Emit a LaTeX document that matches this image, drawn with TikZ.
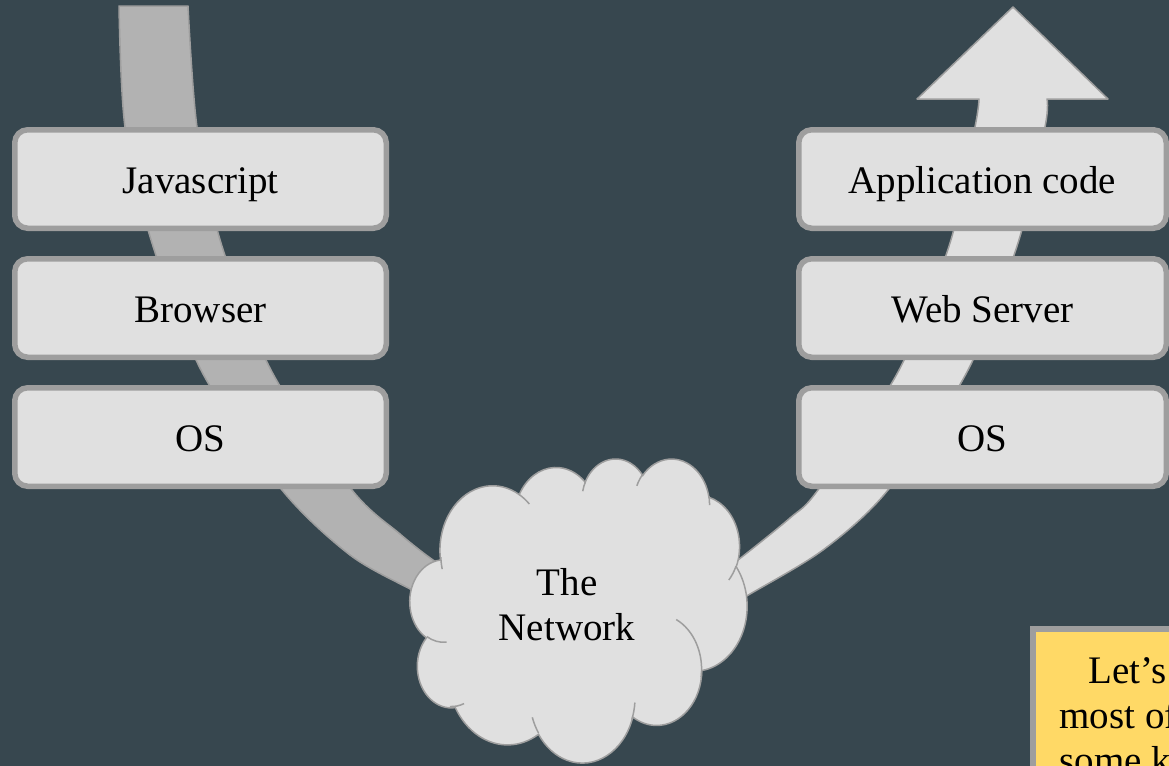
\documentclass[tikz,border=0pt]{standalone}
\usepackage{fontspec}
\setmainfont{Liberation Serif}
\definecolor{slate}{HTML}{37474F}
\definecolor{panel}{HTML}{E0E0E0}
\definecolor{rim}{HTML}{9E9E9E}
\definecolor{tailgray}{HTML}{B2B2B2}
\definecolor{sticky}{HTML}{FFD966}

% Elliptic arc given by radii, a geometric start angle and a sweep (OOXML style arcTo)
\def\ooarc#1#2#3#4{%
  \pgfextra{%
    \pgfmathsetmacro\arcA{atan2((#1)*sin(#3),(#2)*cos(#3))}%
    \pgfmathsetmacro\arcB{atan2((#1)*sin((#3)+(#4)),(#2)*cos((#3)+(#4)))}%
    \pgfmathsetmacro\arcD{\arcB-\arcA}%
    \pgfmathsetmacro\arcD{\arcD+((\arcD<0)*360)}%
    \global\let\arcStart\arcA
    \global\let\arcDelta\arcD
  }%
  arc[start angle=\arcStart, delta angle=\arcDelta, x radius=#1, y radius=#2]%
}

\tikzset{
  layer/.style={draw=rim, fill=panel, line width=2.75pt, rounded corners=6.5pt,
    minimum height=49.25pt, inner sep=0pt, text height=17pt, text depth=3pt,
    font=\fontsize{19.5}{22.5}\selectfont},
  leftlayer/.style={layer, minimum width=185.75pt},
  rightlayer/.style={layer, minimum width=183.75pt},
  band/.style={draw=rim, line width=0.75pt, line join=round},
  label/.style={font=\fontsize{19.5}{22.5}\selectfont, inner sep=0pt},
}

\begin{document}
\begin{tikzpicture}[x=0.5pt,y=-0.5pt]
\useasboundingbox (0,0) rectangle (1169,766);
\clip (0,0) rectangle (1169,766);
\fill[slate] (0,0) rectangle (1169,766);

% outgoing request: grey band falling into the network
\filldraw[band, fill=tailgray]
  plot[smooth] coordinates {(119,6) (125,127) (152,243) (202,372) (282,490) (350,555) (412,590) (445,607)}
  -- plot[smooth] coordinates {(465,580) (433,560) (400,534) (352,490) (272,372) (221,243) (197,127) (188,6)}
  -- cycle;

% incoming request: light band rising to the application
\filldraw[band, fill=panel]
  plot[smooth] coordinates {(979,99) (975,127) (950,243) (898,372) (818,490) (790,518) (738,560) (712,578)}
  -- plot[smooth] coordinates {(718,614) (745,597) (823,550) (888,490) (967,372) (1018,243) (1045,127) (1047,99)}
  -- (1108,99) -- (1013,7) -- (917,99) -- cycle;

% client stack
\node[leftlayer] (js) at (200.5,179) {Javascript};
\node[leftlayer] (browser) at (200.5,308) {Browser};
\node[leftlayer] (clientos) at (200.5,437) {OS};

% server stack
\node[rightlayer] (app) at (982.5,179) {Application code};
\node[rightlayer] (web) at (982.5,308) {Web Server};
\node[rightlayer] (serveros) at (982.5,437) {OS};

% the network cloud
\begin{scope}[shift={(410,458)}, x=0.39005pt, y=-0.35185pt]
  \filldraw[draw=rim, fill=panel, line width=0.75pt] (39.00,143.70)
    \ooarc{67.53}{91.90}{-190.4875}{123.7805}
    \ooarc{53.33}{72.67}{-144.1024}{89.9452}
    \ooarc{43.65}{59.45}{-145.8079}{99.7230}
    \ooarc{48.57}{65.95}{-130.9861}{117.2417}
    \ooarc{53.33}{72.73}{-78.7089}{109.0269}
    \ooarc{67.75}{92.20}{-46.2673}{130.2690}
    \ooarc{57.85}{78.67}{0.6250}{114.0333}
    \ooarc{67.52}{92.15}{22.4516}{115.1726}
    \ooarc{77.20}{105.43}{66.2426}{75.7110}
    \ooarc{43.60}{59.18}{-274.9421}{146.7356}
    \ooarc{43.45}{59.45}{-246.8285}{152.5189}
    -- cycle;
  \draw[rim, line width=0.75pt]
    (46.93,261.77) \ooarc{43.45}{59.45}{86.7420}{26.4295}
    (69.28,348.99) \ooarc{43.60}{59.18}{73.6105}{18.4144}
    (164.78,390.90) \ooarc{67.52}{92.15}{137.6242}{18.1896}
    (288.27,347.51) \ooarc{67.52}{92.15}{6.4533}{20.2804}
    (341.29,229.54) \ooarc{57.85}{78.67}{-70.2924}{81.5802}
    (417.98,153.54) \ooarc{53.33}{72.73}{30.3180}{20.3406}
    (383.24,54.26) \ooarc{48.57}{65.95}{-13.7443}{14.8547}
    (290.78,39.52) \ooarc{48.57}{65.95}{-149.1815}{18.1954}
    (221.41,47.20) \ooarc{43.65}{59.45}{-163.4943}{17.6864}
    (140.00,51.92) \ooarc{67.53}{91.90}{-66.7070}{12.3194}
    (41.27,157.89) \ooarc{67.53}{91.90}{162.0363}{14.2432};
\end{scope}
\node[label, align=center] (net) at (567,605) {The\\Network};

% sticky note in the corner
\filldraw[draw=rim, fill=sticky, line width=2.75pt] (1032.75,628.75) rectangle (1220,820);
\node[label, anchor=base west] (noteA) at (1088,683) {Let’s};
\node[label, anchor=base west] (noteB) at (1059,728) {most of};
\node[label, anchor=base west] (noteC) at (1059,773) {some k};
\end{tikzpicture}
\end{document}
